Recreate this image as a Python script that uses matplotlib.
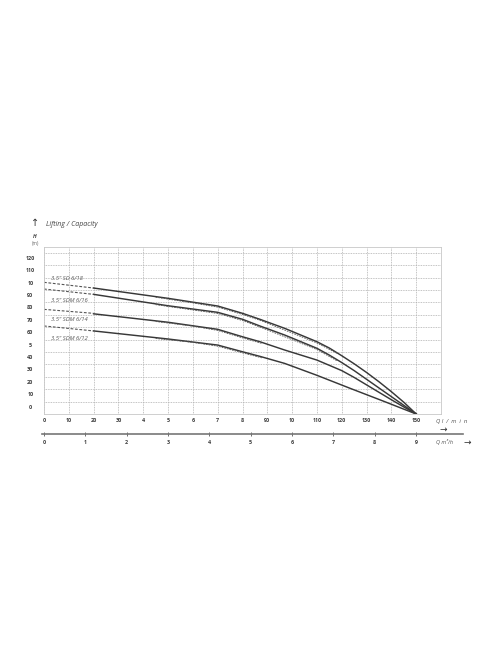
import matplotlib
matplotlib.use("Agg")
import matplotlib.pyplot as plt

plt.rcParams["font.family"] = ["Open Sans", "DejaVu Sans"]

# ---- data (flow in l/min, head in m) ----
a_x = [20, 50, 70, 80, 87, 97, 110, 115, 120, 125, 130, 135, 140, 145, 150]
a_y = [101.6, 93.3, 87.1, 81.2, 76.4, 69.1, 58.3, 53.2, 47, 40.5, 33.5, 26, 18, 9.5, 0]
b_x = [20, 50, 70, 80, 87, 97, 110, 115, 120, 125, 130, 135, 140, 145, 150]
b_y = [96.5, 87.3, 82, 76.4, 71, 63.7, 53, 47.5, 41.5, 35, 28, 21, 14, 7, 0]
c_x = [20, 50, 70, 80, 87, 97, 110, 120, 125, 130, 135, 140, 145, 150]
c_y = [80.8, 74, 68.3, 62.3, 58.3, 51.6, 43.5, 35, 29.5, 23.5, 17.5, 11.5, 5.7, 0]
d_x = [20, 50, 70, 80, 87, 97, 110, 123, 137, 150]
d_y = [67, 60.5, 55.6, 50.2, 46.5, 40.8, 31.2, 21, 10.2, 0]

# dashed extrapolation from zero flow
start_x = [0, 20]
a_start = [106.2, 101.6]
b_start = [100.8, 96.5]
c_start = [84.4, 81.2]
d_start = [71, 67]

# dashed tolerance curves alongside the solid ones
a_tol_x = [45, 60, 70, 80, 88, 110, 118]
a_tol_y = [94.2, 89.6, 86.2, 80.3, 74.9, 57.3, 49.0]
b_tol_x = [45, 60, 70, 80, 88, 110, 118]
b_tol_y = [88.2, 83.9, 81.1, 75.4, 69.4, 52.0, 43.0]
c_tol_x = [45, 60, 70, 80, 88]
c_tol_y = [74.6, 70.9, 67.4, 61.4, 56.8]
d_tol_x = [45, 60, 70, 80, 88]
d_tol_y = [60.9, 57.8, 54.7, 49.3, 45.2]

curve_names = ['3.5" SD 6/18', '3.5" SDM 6/16', '3.5" SDM 6/14', '3.5" SDM 6/12']
name_y = [108.9, 91.9, 76.6, 61.3]

x_ticks = list(range(0, 151, 10))
x_labels = ["0", "10", "20", "30", "4", "5", "6", "7", "8", "90", "10",
            "110", "120", "130", "140", "150"]
y_ticks = list(range(0, 121, 10))
y_labels = ["0", "10", "20", "30", "40", "5", "60", "70", "80", "90", "10",
            "110", "120"]
m3_ticks = list(range(0, 10))

W, H = 496, 664
fig = plt.figure(figsize=(W / 100, H / 100), dpi=100)

# main grid axes (pixel box: x 44..441, y 247..414)
ax = fig.add_axes([44 / W, (H - 414) / H, 397 / W, 167 / H])
ax.set_xlim(0, 160)
ax.set_ylim(0, 134.7)
ax.set_xticks(range(0, 161, 10))
ax.set_yticks(range(0, 131, 10))
ax.grid(True, color="#b0b0b0", linestyle=(0, (1, 1)), linewidth=0.6)
ax.tick_params(length=0, labelbottom=False, labelleft=False)
for s in ax.spines.values():
    s.set_color("#c8c8c8")
    s.set_linewidth(0.6)

line_c = "#383838"
dash_c = "#555555"
for xs, ys in [(a_x, a_y), (b_x, b_y), (c_x, c_y), (d_x, d_y)]:
    ax.plot(xs, ys, color=line_c, linewidth=1.05, solid_joinstyle="round")
for ys in [a_start, b_start, c_start, d_start]:
    ax.plot(start_x, ys, color=dash_c, linewidth=0.8, linestyle=(0, (2.5, 1.5)))
for xs, ys in [(a_tol_x, a_tol_y), (b_tol_x, b_tol_y), (c_tol_x, c_tol_y), (d_tol_x, d_tol_y)]:
    ax.plot(xs, ys, color=dash_c, linewidth=0.6, linestyle=(0, (2, 1.2)))

for name, ny in zip(curve_names, name_y):
    ax.text(3, ny, name, fontsize=4.2, style="italic", color="#555555",
            va="center", ha="left")

# tick labels (y labels sit half a cell above their grid line)
for v, lab in zip(y_ticks, y_labels):
    ax.text(-5.5, v + 5.5, lab, fontsize=3.9, fontweight="bold", color="#3c3c3c",
            ha="center", va="center", clip_on=False)
for v, lab in zip(x_ticks, x_labels):
    ax.text(v, -5.5, lab, fontsize=3.9, fontweight="bold", color="#3c3c3c",
            ha="center", va="center", clip_on=False)

# titles / units
fig.text(35 / W, 1 - 223 / H, "\u2191", fontsize=7, ha="center", va="center", color="#333333")
fig.text(46 / W, 1 - 225 / H, "Lifting / Capacity", fontsize=5, style="italic",
         color="#444444", ha="left", va="center")
fig.text(35 / W, 1 - 236 / H, "H", fontsize=3.8, style="italic", fontweight="bold",
         color="#444444", ha="center", va="center")
fig.text(35 / W, 1 - 243 / H, "(m)", fontsize=3.5, color="#666666", ha="center", va="center")

fig.text(436 / W, 1 - 421 / H, "Q l  /  m  i  n", fontsize=4.2, style="italic",
         color="#555555", ha="left", va="center")
fig.text(443 / W, 1 - 429 / H, "\u2192", fontsize=6.5, color="#333333", ha="center", va="center")

# secondary flow axis in m3/h (0 at px 44, 9 at px 416)
ax2 = fig.add_axes([42 / W, (H - 434) / H, 421 / W, 0.0001])
ax2.set_xlim(-2 / 41.33, 419 / 41.33)
ax2.set_ylim(0, 1)
for side in ["top", "left", "right"]:
    ax2.spines[side].set_visible(False)
ax2.spines["bottom"].set_color("#777777")
ax2.spines["bottom"].set_linewidth(1.2)
ax2.set_yticks([])
ax2.set_xticks(m3_ticks)
ax2.set_xticklabels([str(t) for t in m3_ticks])
ax2.tick_params(axis="x", direction="inout", length=3, width=0.6, color="#555555",
                labelsize=3.9, labelcolor="#3c3c3c", pad=3)
for lab in ax2.get_xticklabels():
    lab.set_fontweight("bold")

fig.text(436 / W, 1 - 442 / H, "Q m\u00b3/h", fontsize=4, style="italic",
         color="#555555", ha="left", va="center")
fig.text(467 / W, 1 - 442 / H, "\u2192", fontsize=6.5, color="#333333", ha="center", va="center")

fig.savefig("out.png", dpi=100, facecolor="white")
